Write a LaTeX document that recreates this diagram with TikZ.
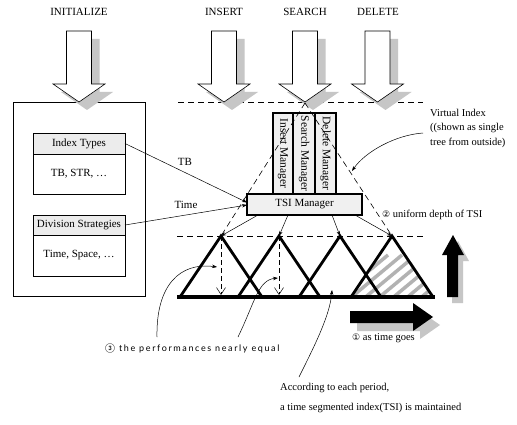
\documentclass[tikz,border=0pt]{standalone}
\usepackage{fontspec}
\setmainfont{Liberation Serif}
\newfontfamily\symf{DejaVu Sans}
\newfontfamily\handf{Lato}[LetterSpace=18]
\usetikzlibrary{arrows.meta,calc}
\tikzset{
  lbl/.style={font=\fontsize{11}{13}\selectfont, inner sep=0pt},
  note/.style={font=\fontsize{10.5}{12}\selectfont, inner sep=0pt},
  box/.style={draw, line width=0.6pt, inner sep=0pt, outer sep=0pt, anchor=north west, font=\fontsize{11}{13}\selectfont},
  hdr/.style={box, fill=gray!15},
  mgr/.style={draw, line width=2.5pt, fill=gray!12, inner sep=0pt, outer sep=0pt, anchor=north west},
  tri/.style={line width=2.8pt, line join=miter},
  dline/.style={dashed, dash pattern=on 6pt off 4pt, line width=0.6pt},
  thinarrow/.style={line width=0.5pt, -{Stealth[length=5pt,width=3.5pt]}},
  openarrow/.style={dashed, dash pattern=on 5pt off 3pt, line width=0.5pt, -{Straight Barb[length=7pt,width=9pt]}},
  shad/.style={fill=gray!45},
  blockdown/.pic={
    \fill[shad] (-4.5,39) -- (20.5,39) -- (20.5,92) -- (34,92) -- (8,110) -- (-18,92) -- (-4.5,92) -- cycle;
    \draw[fill=white, line width=0.6pt] (-12.5,31) -- (12.5,31) -- (12.5,84) -- (26,84) -- (0,102) -- (-26,84) -- (-12.5,84) -- cycle;
  }
}
\begin{document}
\begin{tikzpicture}[x=1pt,y=-1pt]
\useasboundingbox[fill=white] (0,0) rectangle (517,425);

% top labels
\node[lbl] (tinit) at (79,12) {INITIALIZE};
\node[lbl] (tins) at (224,12) {INSERT};
\node[lbl] (tsea) at (305,12) {SEARCH};
\node[lbl] (tdel) at (378,12) {DELETE};

% left box
\node[box, minimum width=132pt, minimum height=194pt] (lbox) at (13,102) {};
\node[hdr, minimum width=92pt, minimum height=21pt] (ith) at (33,133) {Index Types};
\node[box, minimum width=92pt, minimum height=40pt] (itb) at (33,154) {TB, STR, \dots};
\node[hdr, minimum width=92pt, minimum height=20pt] (dsh) at (33,215) {Division Strategies};
\node[box, minimum width=92pt, minimum height=41pt] (dsb) at (33,235) {Time, Space, \dots};

% dashed horizontal lines
\coordinate (dl1) at (178,102);
\coordinate (dr1) at (423,102);
\coordinate (dl2) at (177,236);
\coordinate (dr2) at (423,236);
\draw[dline] (dl1) -- (dr1);
\draw[dline] (dl2) -- (dr2);

% apex coordinates
\coordinate (a1) at (221,236);
\coordinate (a2) at (279,236);
\coordinate (a3) at (340,236);
\coordinate (a4) at (392,236);
\coordinate (vtop) at (305,103);

% block arrows
\pic at (79,0) {blockdown};
\pic at (224,0) {blockdown};
\pic at (305,0) {blockdown};
\pic at (377.5,0) {blockdown};

% managers
\node[mgr, minimum width=20pt, minimum height=81pt] (im) at (273,113) {};
\node[mgr, minimum width=22pt, minimum height=81pt] (sm) at (293,113) {};
\node[mgr, minimum width=21pt, minimum height=81pt] (dm) at (315,113) {};
\node[rotate=-90, font=\fontsize{11.5}{13}\selectfont, inner sep=0pt] at (im.center) {Insert Manager};
\node[rotate=-90, font=\fontsize{11.5}{13}\selectfont, inner sep=0pt] at (sm.center) {Search Manager};
\node[rotate=-90, font=\fontsize{11.5}{13}\selectfont, inner sep=0pt] at (dm.center) {Delete Manager};
\node[mgr, minimum width=115pt, minimum height=21pt, font=\fontsize{11}{13}\selectfont] (tsi) at (247,194) {TSI Manager};

% virtual index outline
\draw[dline] (vtop) -- (a1);
\draw[dline] (vtop) -- (a4);

% TB / Time
\draw[thinarrow] (ith.east) -- ($(tsi.west)+(0,-2)$);
\draw[thinarrow] (dsh.east) -- ($(tsi.west)+(0,0.5)$);
\node[lbl] (ltb) at (185,162) {TB};
\node[lbl] (ltime) at (186,205) {Time};

% TSI to apexes
\draw[thinarrow] ($(tsi.south west)+(11,0)$) -- (a1);
\draw[thinarrow] ($(tsi.south west)+(41,0)$) -- (a2);
\draw[thinarrow] ($(tsi.south west)+(85,0)$) -- (a3);
\draw[thinarrow] ($(tsi.south west)+(108,0)$) -- (a4);

% hatched triangle
\begin{scope}
\clip (350,297) -- (a4) -- (433,297) -- cycle;
\foreach \i in {0,...,12} \draw[gray!60, line width=3.5pt] ({300+\i*14},305) -- ++(60,-50);
\end{scope}

% triangles
\draw[tri] (180,297) -- (a1) -- (262,297);
\draw[tri] (238,297) -- (a2) -- (320,297);
\draw[tri] (299,297) -- (a3) -- (381,297);
\draw[tri] (351,297) -- (a4) -- (433,297);
\draw[line width=3.2pt] (177,297) -- (435,297);

% dashed descent arrows
\coordinate (b1) at (221,295);
\coordinate (b2) at (279,295);
\draw[openarrow] (a1) -- (b1);
\draw[openarrow] (a2) -- (b2);

% time arrow
\fill[shad] (357,319) -- (420,319) -- (420,311) -- (440,325) -- (420,339) -- (420,331) -- (357,331) -- cycle;
\fill[black] (350,311) -- (413,311) -- (413,303) -- (433,317) -- (413,331) -- (413,323) -- (350,323) -- cycle;
% depth arrow
\fill[shad] (452,303) -- (452,261) -- (447,261) -- (458,241) -- (469,261) -- (463,261) -- (463,303) -- cycle;
\fill[black] (447,297) -- (447,255) -- (442,255) -- (453,235) -- (464,255) -- (458,255) -- (458,297) -- cycle;

% texts
\node[note, anchor=west] (vi1) at (430,113) {Virtual Index};
\node[note, anchor=west] (vi2) at (430,128) {((shown as single};
\node[note, anchor=west] (vi3) at (430,143) {tree from outside)};
\coordinate (vit) at (352,171);
\draw[thinarrow] ($(vi2.west)+(-7,5)$) .. controls (395,135) and (365,152) .. (vit);

\node[note, anchor=west] (ud) at (382,215) {{\symf\fontsize{9}{10}\selectfont ②} uniform depth of TSI};
\node[note, anchor=west] (tg) at (352,338) {{\symf\fontsize{9}{10}\selectfont ①} as time goes};

\node[anchor=west, inner sep=0pt, font=\handf\fontsize{9}{10}\selectfont] (pe) at (105,348) {③ the performances nearly equal};
\coordinate (c1) at (157,337);
\coordinate (c2) at (238,337);
\coordinate (e1) at (217,267);
\coordinate (e2) at (278,278);
\draw[thinarrow] (c1) .. controls (156,285) and (180,262) .. (e1);
\draw[thinarrow] (c2) .. controls (255,302) and (258,280) .. (e2);

\node[note, anchor=west] (acc1) at (280,388) {According to each period,};
\node[note, anchor=west] (acc2) at (280,408) {a time segmented index(TSI) is maintained};
\coordinate (c3) at (299,377);
\coordinate (e3) at (332,290);
\draw[thinarrow] (c3) .. controls (315,345) and (330,315) .. (e3);
\end{tikzpicture}
\end{document}
